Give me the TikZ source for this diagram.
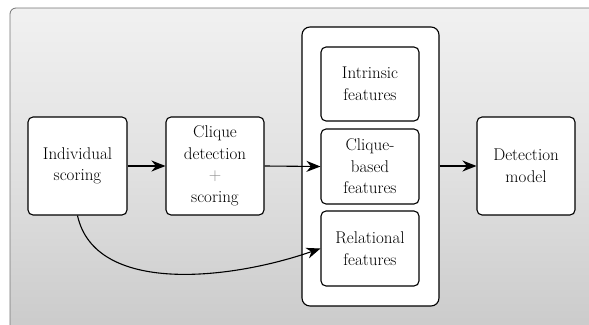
\documentclass[tikz,border=0pt]{standalone}
\usetikzlibrary{arrows.meta,shadings}
\pgfdeclareverticalshading{bgshade}{100bp}{
  color(0bp)=(black!30); color(50bp)=(black!12); color(85bp)=(black!3); color(100bp)=(white)}
\tikzset{
  box/.style={draw=black, line width=1.1pt, rounded corners=5pt, fill=white,
    align=center, inner sep=0pt, font=\fontsize{17}{21.5}\selectfont},
  conn/.style={line width=1.1pt, -{Stealth[length=14pt,width=11pt,inset=4.5pt]}},
}
\begin{document}
\begin{tikzpicture}[x=1pt,y=-1pt]
\useasboundingbox (0,0) rectangle (589,324);
\clip (0,0) rectangle (589,324);
\path[shading=bgshade, draw=black!55, line width=0.8pt, rounded corners=6pt]
  (10,8) rectangle (610,340);
\node[box, minimum width=99pt, minimum height=98pt] (ind) at (77.5,166) {Individual\\scoring};
\node[box, minimum width=98pt, minimum height=98pt] (clq) at (215,166)
  {Clique\\detection\\{\color{black!45}$+$}\\scoring};
\node[box, rounded corners=8pt, minimum width=137pt, minimum height=279pt] (cont) at (370.5,166.5) {};
\node[box, minimum width=98pt, minimum height=74pt] (intr) at (370,84) {Intrinsic\\features};
\node[box, minimum width=98pt, minimum height=75pt] (cb) at (370,166.5) {Clique-\\based\\features};
\node[box, minimum width=98pt, minimum height=75pt] (rel) at (370,248.5) {Relational\\features};
\node[box, minimum width=98pt, minimum height=98pt] (det) at (526,166) {Detection\\model};
\draw[conn] (ind.east) -- (clq.west);
\draw[conn] (clq.east) -- (cb.west);
\draw[conn] (cont.east |- det.west) -- (det.west);
\draw[conn] (ind.south) .. controls (95,295) and (230,280) .. (rel.west);
\end{tikzpicture}
\end{document}
